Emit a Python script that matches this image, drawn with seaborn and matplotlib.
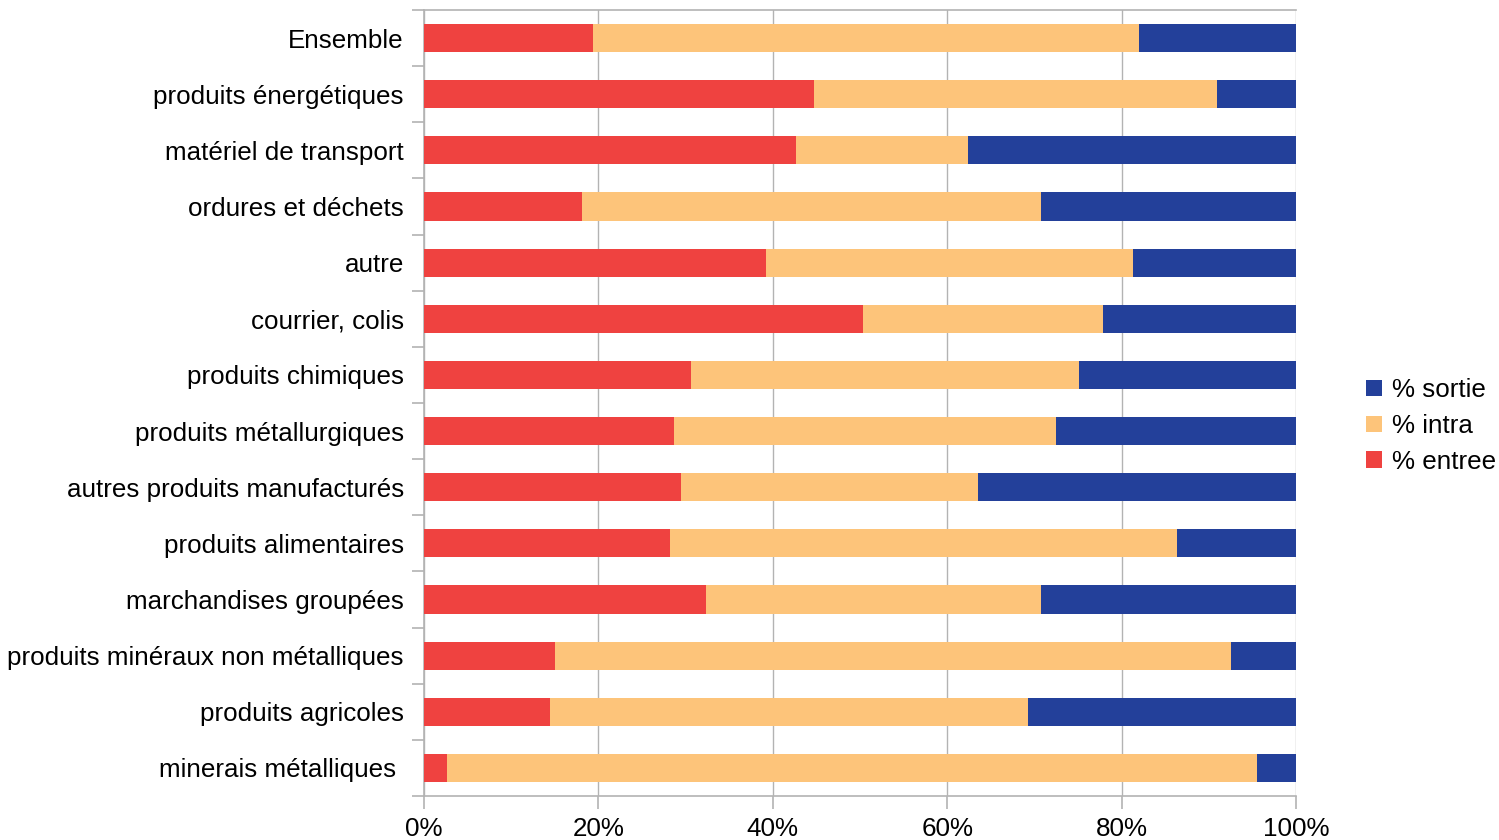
import numpy as np
import pandas as pd
import matplotlib
matplotlib.use("Agg")
import matplotlib.pyplot as plt
from matplotlib.patches import Patch
import seaborn as sns

# categories, top to bottom
categories = [
    "Ensemble",
    "produits énergétiques",
    "matériel de transport",
    "ordures et déchets",
    "autre",
    "courrier, colis",
    "produits chimiques",
    "produits métallurgiques",
    "autres produits manufacturés",
    "produits alimentaires",
    "marchandises groupées",
    "produits minéraux non métalliques",
    "produits agricoles",
    "minerais métalliques ",
]

# shares in %
pct_entree = [19.4, 44.7, 42.7, 18.1, 39.2, 50.3, 30.6, 28.7, 29.5, 28.2, 32.3, 15.0, 14.4, 2.6]
pct_intra = [62.6, 46.2, 19.7, 52.7, 42.1, 27.6, 44.5, 43.8, 34.0, 58.2, 38.5, 77.5, 54.9, 92.9]
pct_sortie = [100 - a - b for a, b in zip(pct_entree, pct_intra)]

x_ticks = [0, 20, 40, 60, 80, 100]
x_labels = ["0%", "20%", "40%", "60%", "80%", "100%"]

c_entree = "#ef4240"
c_intra = "#fdc47a"
c_sortie = "#23409a"

df = pd.DataFrame({
    "cat": categories,
    "entree": pct_entree,
    "intra": pct_intra,
    "sortie": pct_sortie,
})
df["cum_intra"] = df["entree"] + df["intra"]
df["cum_sortie"] = df["cum_intra"] + df["sortie"]

plt.rcParams["font.family"] = ["Liberation Sans", "DejaVu Sans"]
fs = 18.7

fig = plt.figure(figsize=(14.99, 8.4), dpi=100)
ax = fig.add_axes([424 / 1499, 44 / 840, 872 / 1499, 786 / 840])

# stacked: draw totals first, then overlay the lower parts
sns.barplot(data=df, y="cat", x="cum_sortie", color=c_sortie, width=0.5,
            saturation=1, orient="h", ax=ax, zorder=3)
sns.barplot(data=df, y="cat", x="cum_intra", color=c_intra, width=0.5,
            saturation=1, orient="h", ax=ax, zorder=3)
sns.barplot(data=df, y="cat", x="entree", color=c_entree, width=0.5,
            saturation=1, orient="h", ax=ax, zorder=3)

for p in ax.patches:
    p.set_edgecolor("none")

ax.set_xlim(0, 100)
ax.set_ylim(len(categories) - 0.5, -0.5)
ax.set_xticks(x_ticks)
ax.set_xticklabels(x_labels)
ax.set_xlabel("")
ax.set_ylabel("")

grid_c = "#b3b3b3"
ax.grid(axis="x", color=grid_c, linewidth=1, zorder=0)
ax.grid(axis="y", visible=False)
for s in ["left", "bottom", "top"]:
    ax.spines[s].set_color(grid_c)
    ax.spines[s].set_linewidth(1.2)
ax.spines["right"].set_visible(False)

ax.set_yticks(np.arange(-0.5, len(categories), 1.0), minor=True)
ax.tick_params(axis="y", which="major", length=0, pad=14.5, labelsize=fs)
ax.tick_params(axis="y", which="minor", length=9, color=grid_c, width=1.2)
ax.tick_params(axis="x", which="major", length=9, color=grid_c, width=1.2,
               labelsize=fs, pad=6)

handles = [
    Patch(facecolor=c_sortie, label="% sortie"),
    Patch(facecolor=c_intra, label="% intra"),
    Patch(facecolor=c_entree, label="% entree"),
]
fig.legend(handles=handles, loc="center left", bbox_to_anchor=(1366 / 1499, 1 - 426 / 840),
           frameon=False, fontsize=fs, handlelength=0.6, handleheight=0.6,
           handletextpad=0.4, labelspacing=0.45, borderaxespad=0, borderpad=0)

fig.savefig("out.png", dpi=100)
